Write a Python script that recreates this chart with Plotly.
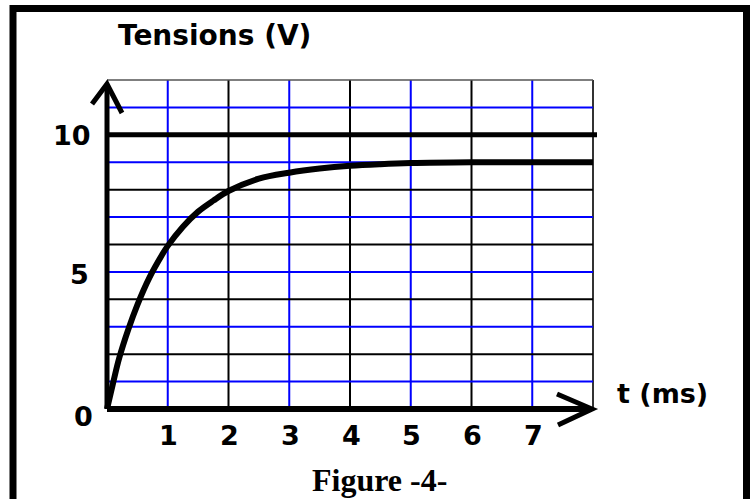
import plotly.graph_objects as go

# ---- data ----
t_ms = [0, 0.1, 0.2, 0.35, 0.5, 0.7, 0.9, 1.0, 1.25, 1.5, 1.75, 2.0, 2.5, 3.0, 3.5, 4.0, 4.5, 5.0, 6.0, 7.0, 8.0]
u_V = [0, 0.95, 1.85, 2.9, 3.8, 4.8, 5.6, 5.95, 6.65, 7.2, 7.6, 7.95, 8.4, 8.62, 8.77, 8.87, 8.93, 8.97, 9.0, 9.0, 9.0]

asymptote_V = 10
x_tick_vals = [1, 2, 3, 4, 5, 6, 7]
x_tick_labels = ["1", "2", "3", "4", "5", "6", "7"]
y_tick_vals = [0, 5, 10]
y_tick_labels = ["0", "5", "10"]
grid_t = [1, 2, 3, 4, 5, 6, 7, 8]
grid_u = [1, 2, 3, 4, 5, 6, 7, 8, 9, 10, 11, 12]
x_title = "t (ms)"
y_title = "Tensions (V)"
caption = "Figure -4-"

# ---- pixel <-> data mapping (plot area = whole figure) ----
W, H = 754, 499
X0, PX_PER_T = 107.0, 60.75
Y0, PX_PER_U = 409.0, (409.0 - 80.0) / 12.0


def tx(px):
    return (px - X0) / PX_PER_T


def uy(py):
    return (Y0 - py) / PX_PER_U


BLUE = "#0000ff"
BLACK = "#000000"

shapes = []
# vertical grid lines
for t in grid_t:
    if t == grid_t[-1]:
        col, w = "#333333", 2
    else:
        col, w = (BLUE if t % 2 == 1 else BLACK), 2
    shapes.append(dict(type="line", xref="x", yref="y", x0=t, x1=t, y0=0, y1=grid_u[-1],
                       line=dict(color=col, width=w), layer="below"))
# horizontal grid lines
for u in grid_u:
    if u == grid_u[-1]:
        col, w = "#555555", 1.5
    elif u == asymptote_V:
        continue
    else:
        col, w = (BLUE if u % 2 == 1 else BLACK), 2
    shapes.append(dict(type="line", xref="x", yref="y", x0=0, x1=grid_t[-1], y0=u, y1=u,
                       line=dict(color=col, width=w), layer="below"))
# asymptote line at 10 V
shapes.append(dict(type="line", xref="x", yref="y", x0=0, x1=tx(597), y0=asymptote_V, y1=asymptote_V,
                   line=dict(color=BLACK, width=5)))
# axes with arrows
shapes.append(dict(type="line", xref="x", yref="y", x0=0, x1=0, y0=0, y1=uy(86),
                   line=dict(color=BLACK, width=5)))
shapes.append(dict(type="line", xref="x", yref="y", x0=0, x1=tx(590), y0=0, y1=0,
                   line=dict(color=BLACK, width=6)))
shapes.append(dict(type="path", xref="x", yref="y",
                   path=f"M {tx(557)},{uy(394)} L {tx(592)},{uy(409)} L {tx(558)},{uy(425)}",
                   line=dict(color=BLACK, width=5)))
shapes.append(dict(type="path", xref="x", yref="y",
                   path=f"M {tx(92)},{uy(104)} L {tx(107)},{uy(84)} L {tx(122)},{uy(113)}",
                   line=dict(color=BLACK, width=5)))
# outer frame
shapes.append(dict(type="path", xref="x", yref="y",
                   path=f"M {tx(13)},{uy(520)} L {tx(13)},{uy(8.5)} L {tx(746.5)},{uy(8.5)} L {tx(746.5)},{uy(520)}",
                   line=dict(color=BLACK, width=7)))

fig = go.Figure()
fig.add_trace(go.Scatter(x=t_ms, y=u_V, mode="lines",
                         line=dict(color=BLACK, width=6, shape="spline", smoothing=1.0),
                         hoverinfo="skip", showlegend=False))

tick_font = dict(family="DejaVu Sans", size=27, color=BLACK, weight="bold")
annotations = []
for v, lab in zip(x_tick_vals, x_tick_labels):
    annotations.append(dict(x=v + tx(108) - tx(107), y=uy(435), text=lab, showarrow=False,
                            xanchor="center", yanchor="middle", font=tick_font))
y_label_px = {0: (95, 416), 5: (91, 274), 10: (93, 135)}
for v, lab in zip(y_tick_vals, y_tick_labels):
    px, py = y_label_px[v]
    annotations.append(dict(x=tx(px), y=uy(py), text=lab, showarrow=False,
                            xanchor="right", yanchor="middle", font=tick_font))
annotations.append(dict(x=tx(214), y=uy(35), text=y_title, showarrow=False,
                        xanchor="center", yanchor="middle",
                        font=dict(family="DejaVu Sans", size=28, color=BLACK, weight="bold")))
annotations.append(dict(x=tx(662), y=uy(393), text=x_title, showarrow=False,
                        xanchor="center", yanchor="middle",
                        font=dict(family="DejaVu Sans", size=27, color=BLACK, weight="bold")))
annotations.append(dict(x=tx(379), y=uy(480), text=caption, showarrow=False,
                        xanchor="center", yanchor="middle",
                        font=dict(family="Liberation Serif", size=32, color=BLACK, weight="bold")))

fig.update_layout(
    width=W, height=H,
    margin=dict(l=0, r=0, t=0, b=0),
    paper_bgcolor="white", plot_bgcolor="white",
    xaxis=dict(range=[tx(0), tx(W)], visible=False, fixedrange=True),
    yaxis=dict(range=[uy(H), uy(0)], visible=False, fixedrange=True),
    shapes=shapes, annotations=annotations, showlegend=False,
)

fig.write_html("out.html", config={"displayModeBar": False},
               post_script="document.body.style.margin='0';document.body.style.overflow='hidden';")
